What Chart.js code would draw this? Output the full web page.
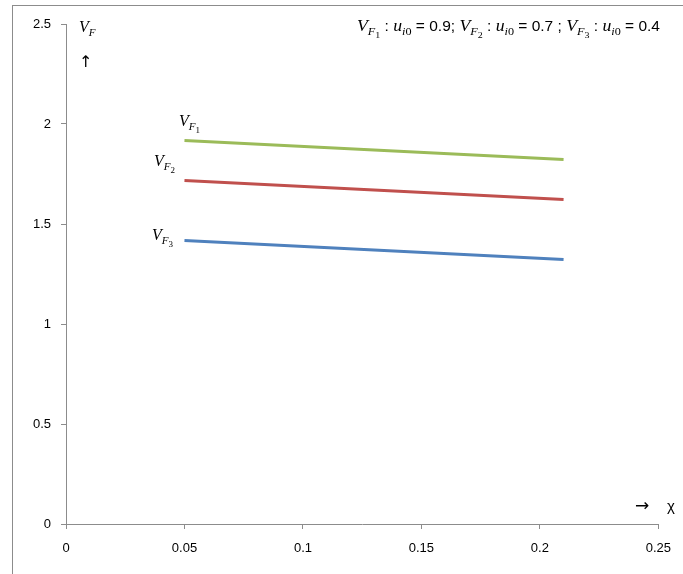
<!DOCTYPE html>
<html>
<head>
<meta charset="utf-8">
<script src="https://cdn.jsdelivr.net/npm/chart.js@4/dist/chart.umd.min.js"></script>
<style>
  html, body { margin: 0; padding: 0; background: #fff; }
  #wrap { width: 683px; height: 574px; }
</style>
</head>
<body>
<div id="wrap"><canvas id="vfChart" width="683" height="574"></canvas></div>
<script>
// values
const chiValues = [0.05, 0.13, 0.21];
const vf1 = [1.917, 1.870, 1.823];
const vf2 = [1.717, 1.670, 1.623];
const vf3 = [1.417, 1.370, 1.323];
const seriesNames = ['VF1', 'VF2', 'VF3'];
const xTicks = [0, 0.05, 0.1, 0.15, 0.2, 0.25];
const yTicks = [0, 0.5, 1, 1.5, 2, 2.5];

const sans = 'Liberation Sans, Arial, sans-serif';
const serif = 'Liberation Serif, serif';

function toPoints(ys) {
    return chiValues.map((x, i) => ({ x: x, y: ys[i] }));
}

// draw a piece of text and return the x after it
function seg(ctx, x, y, text, font) {
    ctx.font = font;
    ctx.fillText(text, x, y);
    return x + ctx.measureText(text).width;
}

// V with subscript F and sub-subscript n
function drawVF(ctx, x, y, n) {
    x = seg(ctx, x, y, 'V', 'italic 16px ' + serif);
    x = seg(ctx, x, y + 4, 'F', 'italic 11px ' + serif);
    if (n) x = seg(ctx, x, y + 7, n, '9px ' + serif);
    return x;
}

function drawU(ctx, x, y) {
    x = seg(ctx, x, y, 'u', 'italic 16px ' + serif);
    x = seg(ctx, x, y + 4, 'i', 'italic 11px ' + serif);
    x = seg(ctx, x, y + 4, '0', '11px ' + serif);
    return x;
}

function drawNote(ctx, x, y) {
    const notes = [['1', '0.9;'], ['2', '0.7 ;'], ['3', '0.4']];
    notes.forEach((n, i) => {
        x = drawVF(ctx, x, y, n[0]);
        x = seg(ctx, x, y, ' : ', '14px ' + sans);
        x = drawU(ctx, x, y);
        x = seg(ctx, x, y, ' = ' + n[1] + (i < 2 ? ' ' : ''), '14px ' + sans);
    });
    return x;
}

const decorations = {
    id: 'decorations',
    beforeDraw(chart) {
        const ctx = chart.ctx;
        ctx.save();
        ctx.fillStyle = '#fff';
        ctx.fillRect(0, 0, chart.width, chart.height);
        ctx.strokeStyle = '#8c8c8c';
        ctx.lineWidth = 1;
        ctx.strokeRect(12.5, 5.5, 700, 600);
        ctx.restore();
    },
    afterDraw(chart) {
        const ctx = chart.ctx;
        ctx.save();
        ctx.fillStyle = '#000';
        ctx.textBaseline = 'alphabetic';

        // axis titles
        drawVF(ctx, 79, 32, null);
        seg(ctx, 79, 67, '\u2191', '16px DejaVu Sans, sans-serif');
        seg(ctx, 635, 511, '\u2192', '17px DejaVu Sans, sans-serif');
        seg(ctx, 667, 511, '\u03C7', '15px ' + sans);

        // parameter note top right, stretched to span 357..660
        ctx.save();
        ctx.globalAlpha = 0;
        const w = drawNote(ctx, 0, -100);
        ctx.restore();
        ctx.save();
        ctx.translate(357, 0);
        ctx.scale(303 / w, 1);
        drawNote(ctx, 0, 31);
        ctx.restore();

        // line labels
        drawVF(ctx, 179, 126, '1');
        drawVF(ctx, 154, 166, '2');
        drawVF(ctx, 152, 240, '3');
        ctx.restore();
    }
};

const ctx = document.getElementById('vfChart').getContext('2d');
const vfChart = new Chart(ctx, {
    type: 'scatter',
    data: {
        datasets: [
            { label: seriesNames[0], data: toPoints(vf1), borderColor: '#9BBB59' },
            { label: seriesNames[1], data: toPoints(vf2), borderColor: '#C0504D' },
            { label: seriesNames[2], data: toPoints(vf3), borderColor: '#4F81BD' }
        ].map(d => Object.assign(d, {
            showLine: true,
            borderWidth: 3,
            pointRadius: 0,
            pointHoverRadius: 0,
            tension: 0,
            backgroundColor: d.borderColor
        }))
    },
    options: {
        responsive: false,
        animation: false,
        events: [],
        layout: { padding: { left: 0, top: 24, right: 19, bottom: 0 } },
        plugins: {
            legend: { display: false },
            tooltip: { enabled: false }
        },
        scales: {
            x: {
                type: 'linear',
                min: 0,
                max: 0.25,
                afterBuildTicks: s => { s.ticks = xTicks.map(v => ({ value: v })); },
                afterFit: s => { s.height = 50; },
                grid: { drawOnChartArea: false, drawTicks: true, tickLength: 5, color: '#8c8c8c' },
                border: { color: '#8c8c8c', width: 1 },
                ticks: {
                    color: '#000',
                    padding: 12,
                    font: { family: sans, size: 13 },
                    maxRotation: 0,
                    callback: v => String(+v.toFixed(2))
                }
            },
            y: {
                type: 'linear',
                min: 0,
                max: 2.5,
                afterBuildTicks: s => { s.ticks = yTicks.map(v => ({ value: v })); },
                afterFit: s => { s.width = 66; },
                grid: { drawOnChartArea: false, drawTicks: true, tickLength: 5, color: '#8c8c8c' },
                border: { color: '#8c8c8c', width: 1 },
                ticks: {
                    color: '#000',
                    padding: 10,
                    font: { family: sans, size: 13 },
                    callback: v => String(+v.toFixed(2))
                }
            }
        }
    },
    plugins: [decorations]
});
</script>
</body>
</html>
